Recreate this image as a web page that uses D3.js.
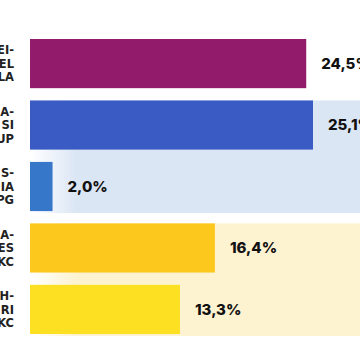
<!DOCTYPE html>
<html><head><meta charset="utf-8">
<script src="https://cdn.jsdelivr.net/npm/d3@7"></script>
<style>html,body{margin:0;padding:0;background:#fff;overflow:hidden}</style>
</head><body>
<svg id="c" width="360" height="360"></svg>
<script>
const categories = ["r1","r2","r3","r4","r5"];
const labelLines = [["EI-","EL","LA"],["A-","SI","UP"],["S-","IA","PG"],["A-","ES","KC"],["H-","RI","KC"]];
const values = [24.5, 25.1, 2.0, 16.4, 13.3];
const valueLabels = ["24,5%","25,1%","2,0%","16,4%","13,3%"];
const barColors = ["#931b6b","#3a5bc3","#3677c9","#fcc81d","#fde022"];
const bands = [{from:1,to:2,color:"#dbe6f4"},{from:3,to:4,color:"#fdf3d1"}];

const svg = d3.select("#c");
const x = d3.scaleLinear().domain([0, 25.1]).range([30, 313]);
const y = d3.scaleBand().domain(categories).range([39, 334]).paddingInner(0.2).paddingOuter(0);
const bw = y.bandwidth();

const defs = svg.append("defs");
bands.forEach((b,i)=>{
  const g = defs.append("linearGradient").attr("id","g"+i).attr("x1","0").attr("x2","1").attr("y1","0").attr("y2","0");
  g.append("stop").attr("offset","0").attr("stop-color","#fff");
  g.append("stop").attr("offset","0.14").attr("stop-color",b.color);
  g.append("stop").attr("offset","1").attr("stop-color",b.color);
  const y0 = y(categories[b.from]), y1 = y(categories[b.to]) + bw;
  svg.append("rect").attr("x",30).attr("y",y0).attr("width",330).attr("height",y1-y0+2).attr("fill","url(#g"+i+")");
});

svg.selectAll("rect.bar").data(values).join("rect").attr("class","bar")
  .attr("x", x(0)).attr("y",(d,i)=>y(categories[i]))
  .attr("width", d=>x(d)-x(0)).attr("height", bw)
  .attr("fill",(d,i)=>barColors[i]);

svg.selectAll("text.val").data(values).join("text").attr("class","val")
  .attr("x", d=>x(d)+15).attr("y",(d,i)=>y(categories[i])+bw/2)
  .attr("dy","0.36em")
  .attr("font-family","Inter, 'Open Sans', sans-serif").attr("font-weight",800).attr("font-size",15)
  .attr("fill","#111").text((d,i)=>valueLabels[i]);

labelLines.forEach((lines,i)=>{
  const cy = y(categories[i]) + bw/2;
  const t = svg.append("text").attr("text-anchor","end")
    .attr("font-family","'DejaVu Sans', sans-serif").attr("font-weight",700).attr("font-size",11.5)
    .attr("fill","#222");
  lines.forEach((l,j)=>{
    t.append("tspan").attr("x",14).attr("y", cy + (j-1)*13.5).attr("dy","0.36em").text(l);
  });
});
</script>
</body></html>
